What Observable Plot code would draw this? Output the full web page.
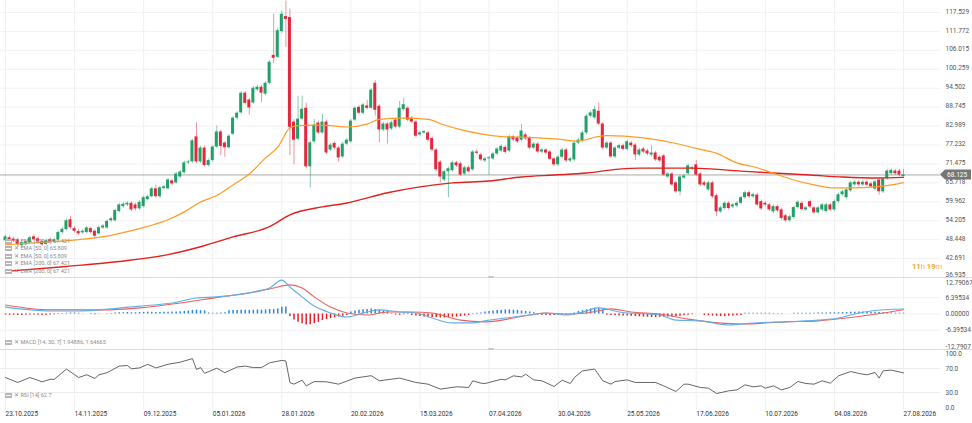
<!DOCTYPE html>
<html>
<head>
<meta charset="utf-8">
<script src="https://cdn.jsdelivr.net/npm/d3@7"></script>
<script src="https://cdn.jsdelivr.net/npm/@observablehq/plot@0.6"></script>
<style>
  html, body { margin: 0; padding: 0; background: #fff; }
  #wrap { position: relative; width: 972px; height: 423px; overflow: hidden; font-family: Roboto, "Liberation Sans", sans-serif; }
  #wrap > div.panel { position: absolute; left: 0; }
  .sep { position: absolute; left: 0; width: 972px; height: 1px; background: #dcdcdc; }
  .handle { position: absolute; width: 6px; height: 2px; background: #c8c8c8; border-radius: 1px; }
  .leg { position: absolute; left: 5px; font-size: 5.6px; color: #8c8c8c; white-space: nowrap; line-height: 7px; }
  .ic { display: inline-block; width: 5px; height: 3px; border: 1px solid #b5b5b5; background: repeating-linear-gradient(#b5b5b5 0 1px, #fff 1px 2px); vertical-align: middle; margin-right: 2px; }
  .cd { position: absolute; left: 912px; top: 262px; font-size: 7.6px; color: #f6a432; white-space: nowrap; }
  .cd b { font-weight: 700; }
  .cd span { font-weight: 400; opacity: 0.85; }
</style>
</head>
<body>
<div id="wrap"></div>
<script>
// ---------------- DATA ----------------
const dateLabels = ["23.10.2025","14.11.2025","09.12.2025","05.01.2026","28.01.2026","20.02.2026","15.03.2026","07.04.2026","30.04.2026","25.05.2026","17.06.2026","10.07.2026","04.08.2026","27.08.2026"];
const dateIdx = [0,17,34,51,68,85,102,119,136,153,170,187,204,221];

const opens = [
 48.1,49.0,48.6,48.4,46.6,46.9,47.5,49.3,48.7,47.8,
 47.0,48.4,47.8,48.4,50.6,51.5,54.5,51.8,50.9,50.5,
 50.6,51.8,51.0,50.2,52.0,52.0,54.2,54.2,57.0,58.5,
 59.0,59.5,59.0,57.8,58.5,60.6,61.5,63.9,61.5,64.0,
 63.9,66.3,65.7,67.5,68.8,71.8,72.1,79.7,72.1,76.3,
 71.0,72.5,76.6,81.2,77.8,76.4,80.5,85.4,87.0,93.0,
 90.9,90.0,94.0,94.8,92.7,96.0,104.5,103.9,111.7,116.3,
 116.0,84.2,79.0,85.1,88.4,70.6,78.2,83.9,80.9,84.2,
 75.7,77.7,76.3,73.6,77.5,78.2,84.8,88.7,86.9,89.1,
 88.4,96.0,89.0,81.8,83.6,82.1,84.8,82.7,88.0,88.4,
 85.4,84.2,80.3,80.9,80.9,79.2,75.7,72.0,66.6,69.1,
 69.4,71.8,71.5,68.4,70.3,69.7,75.1,74.2,72.4,73.0,
 73.0,74.5,75.4,76.5,75.4,79.7,79.4,78.7,80.3,79.4,
 76.3,77.5,75.1,75.7,75.1,73.0,71.2,73.5,75.7,72.4,
 72.7,77.8,78.4,80.9,86.0,85.5,87.5,83.6,76.3,77.8,
 73.6,76.3,77.0,75.9,77.8,77.2,74.2,76.0,75.4,74.2,
 74.8,73.5,73.9,67.5,68.4,65.7,63.0,67.2,68.5,70.0,
 71.2,68.4,65.7,63.6,65.7,61.8,56.9,57.9,59.5,58.4,
 58.7,59.5,61.2,62.7,61.5,62.0,60.0,59.5,59.0,56.9,
 58.5,57.5,55.7,54.2,55.2,58.2,59.5,57.5,60.0,58.1,
 56.6,57.5,57.0,59.0,57.5,60.0,62.1,61.2,63.3,65.1,
 65.9,65.1,65.9,65.4,63.8,66.6,63.0,67.0,68.5,69.3,
 69.3,67.6
];
const highs = [
 49.8,49.6,49.2,48.9,48.0,48.4,49.5,49.9,49.2,48.3,
 48.6,48.9,48.9,51.1,52.2,54.7,55.6,52.4,51.5,51.5,
 52.5,52.3,51.5,52.6,53.1,54.5,55.3,57.8,59.5,59.7,
 60.0,60.0,59.5,60.3,61.7,62.0,64.4,65.0,64.7,65.0,
 67.1,66.8,68.9,69.5,72.3,72.6,79.0,84.0,76.8,76.9,
 73.0,77.1,83.0,81.7,78.3,80.4,85.9,87.4,93.5,93.5,
 91.4,95.0,95.4,95.3,96.5,102.9,117.0,112.8,118.0,121.0,
 118.5,85.0,92.0,92.1,90.0,78.4,85.0,84.5,86.5,84.8,
 77.7,78.2,76.8,78.0,79.2,85.0,88.9,89.2,89.9,90.8,
 94.4,96.8,89.5,84.1,84.1,84.5,85.3,90.5,91.5,88.9,
 85.9,84.7,81.4,81.8,81.4,79.7,76.2,72.5,69.6,70.5,
 72.3,72.3,72.0,70.8,70.8,75.6,75.8,74.7,73.5,73.8,
 75.0,76.5,77.3,77.0,80.2,80.2,79.9,83.5,80.8,79.9,
 78.0,78.0,76.2,76.2,75.6,73.5,74.0,76.2,76.2,73.5,
 78.3,79.2,81.4,86.5,87.5,89.0,90.0,84.1,78.3,78.3,
 76.8,77.5,77.5,78.7,78.3,77.7,76.2,76.5,75.9,77.0,
 75.3,74.0,74.4,68.9,68.9,66.2,68.0,68.3,71.4,70.8,
 72.5,68.9,66.2,66.2,66.2,62.3,58.6,60.0,60.0,59.5,
 60.0,61.7,63.2,63.2,62.6,62.5,60.5,60.0,59.5,59.0,
 59.0,58.0,56.2,55.9,58.7,60.3,60.0,58.6,60.5,58.6,
 58.6,59.5,59.5,59.5,60.5,62.6,63.5,64.1,66.2,66.4,
 66.4,66.4,66.4,65.9,66.5,67.1,67.4,69.8,70.0,69.8,
 69.8,69.8
];
const lows = [
 47.6,47.9,47.6,46.3,46.0,46.5,47.2,48.0,47.3,46.4,
 46.6,47.4,47.3,48.0,50.1,51.1,51.7,50.5,49.7,50.0,
 50.2,50.1,48.7,49.8,51.5,51.6,53.7,53.8,56.6,58.0,
 58.5,57.0,57.3,57.4,58.1,60.2,61.1,61.0,61.0,63.5,
 63.5,64.9,65.3,67.1,68.4,71.3,71.7,71.5,71.6,70.5,
 70.5,72.0,76.2,74.0,73.5,76.0,80.1,84.9,86.6,89.4,
 86.3,89.6,93.5,90.2,92.2,95.6,102.0,103.5,111.2,106.9,
 74.0,71.2,78.5,84.6,70.0,64.2,77.8,80.4,80.5,74.3,
 75.2,75.8,72.0,73.1,77.0,77.8,84.3,86.4,86.4,87.9,
 88.0,86.0,77.8,81.3,77.5,81.6,82.2,82.2,87.5,84.3,
 83.7,79.4,79.8,80.4,78.2,75.2,69.2,65.7,66.1,61.2,
 68.9,70.4,67.6,67.9,68.6,69.2,74.2,72.2,71.9,68.0,
 72.5,74.0,74.9,74.5,74.9,78.3,77.7,78.2,78.6,75.8,
 75.8,74.6,74.6,74.3,72.4,70.7,70.7,73.0,71.9,71.9,
 72.2,77.3,77.9,80.4,85.5,85.0,83.1,75.8,75.8,73.1,
 73.1,75.8,75.4,75.4,76.5,72.5,73.7,74.6,74.0,73.7,
 72.2,71.9,67.6,67.0,64.6,62.5,61.8,66.7,68.0,69.5,
 67.6,64.6,64.5,63.1,61.0,55.5,56.4,57.4,57.4,57.9,
 58.2,59.0,60.7,61.0,61.0,58.5,57.3,58.5,57.0,56.4,
 56.7,54.4,53.7,53.7,54.7,57.7,57.1,57.0,57.9,56.1,
 56.1,57.0,56.5,57.0,57.0,59.5,61.6,60.7,62.8,64.6,
 64.6,64.6,64.5,64.0,63.3,62.0,62.5,66.5,68.0,68.0,
 67.6,67.5
];
const closes = [
 49.3,48.4,48.0,46.9,47.5,47.8,49.0,48.4,47.8,46.9,
 48.1,47.8,48.4,50.6,51.6,54.2,52.1,51.0,50.2,51.0,
 52.0,50.6,49.5,52.1,52.6,54.0,54.8,57.3,59.0,59.2,
 59.5,57.5,57.8,59.8,61.2,61.5,63.9,61.5,64.2,64.5,
 66.6,65.4,68.4,69.0,71.8,72.1,78.5,72.1,76.3,71.0,
 72.5,76.6,81.2,76.8,76.4,79.9,85.4,86.9,93.0,89.9,
 88.5,94.5,94.8,93.0,96.0,102.4,103.6,112.0,117.0,115.4,
 82.6,78.7,85.1,88.1,70.6,77.9,83.3,80.9,84.2,74.8,
 77.2,76.3,73.3,77.5,78.7,84.5,88.4,86.9,89.4,88.4,
 93.9,87.8,81.8,83.6,81.8,84.0,82.7,88.4,89.5,84.8,
 84.2,79.9,80.9,81.3,78.7,75.7,69.7,67.5,69.1,70.0,
 71.8,70.9,68.1,70.3,69.1,75.1,74.7,72.7,73.0,73.3,
 74.5,76.0,76.8,75.0,79.7,78.8,78.2,81.5,79.1,76.3,
 77.5,75.1,75.7,74.8,72.9,71.2,73.5,75.7,72.4,73.0,
 77.8,78.7,80.9,86.0,87.0,88.0,83.6,76.3,77.8,73.6,
 76.3,77.0,75.9,78.2,77.0,74.2,75.7,75.1,74.5,74.8,
 72.7,72.4,68.1,68.4,65.1,63.0,67.5,67.8,70.9,70.3,
 68.1,65.1,65.0,65.7,61.5,56.9,58.1,59.5,57.9,59.0,
 59.5,61.2,62.7,61.5,62.1,59.0,57.8,59.0,57.5,58.5,
 57.2,54.9,54.2,55.4,58.2,59.8,57.6,58.1,58.4,56.6,
 58.1,59.0,59.0,57.5,60.0,62.1,63.0,63.6,65.7,65.9,
 65.1,65.9,65.0,64.5,66.0,63.0,66.9,69.3,69.5,68.5,
 68.1,68.125
];
const lastPrice = 68.125;

// EMA lines (candle index, value)
const ema50Idx = [0,10,20,25,30,35,40,44,48,52,56,60,64,67,70,72,76,80,84,89,92,98,104,108,112,117,122,130,136,141,145,148,157,165,170,175,180,185,189,194,199,204,208,214,218,221];
const ema50Val = [46.9,47.7,48.7,49.5,50.9,52.5,54.5,56.9,59.9,61.9,65.1,68.4,73.3,76.6,82.4,83.1,83.3,83.1,82.7,83.6,85.0,85.4,85.0,83.3,81.9,80.6,79.8,79.5,79.0,78.4,79.6,80.1,79.4,77.7,76.2,74.7,71.8,70.3,68.6,66.6,65.1,64.2,64.2,64.5,65.1,65.8];
const ema200Idx = [0,15,28,40,48,56,65,70,78,84,94,102,110,119,127,135,143,151,156,169,181,189,198,206,214,221];
const ema200Val = [38.8,40.3,41.8,43.9,46.3,49.3,52.4,56.0,58.4,59.6,62.7,64.5,65.7,66.3,67.5,68.1,68.7,69.9,70.2,70.2,69.3,68.7,68.1,67.5,67.2,67.4];

// MACD panel
const macdIdx = [0,11,18,26,33,41,47,52,58,62,65,68,70,73,76,80,84,89,92,97,101,105,110,115,118,123,129,133,138,142,146,151,161,165,171,178,184,192,200,205,209,213,221];
const macdVal = [2.7,1.2,1.2,2.0,3.1,4.3,6.3,6.7,7.8,9.0,10.2,13.3,10.6,6.7,3.1,0.4,-1.2,0.8,1.6,0.8,0.4,-1.6,-3.5,-3.5,-2.7,-1.6,-0.4,0.4,-0.4,0.8,2.4,0.8,-0.4,-2.4,-2.7,-4.3,-3.5,-3.1,-2.4,-1.6,0,1.2,1.95];
const signalIdx = [0,11,24,33,43,53,60,66,70,73,76,80,84,89,94,100,105,112,118,129,133,138,143,149,154,161,168,181,192,200,209,221];
const signalVal = [3.5,1.6,1.6,2.4,4.3,6.7,8.2,10.2,11.4,10.2,6.7,2.7,0.4,-0.4,0.8,0.8,0.4,-2.4,-3.1,-0.4,0.4,0,0.4,2.0,0.8,0,-2.0,-3.9,-3.1,-2.7,-1.2,1.65];
const histVal = [
 -0.4,-0.5,-0.5,-0.6,-0.6,-0.5,-0.4,-0.4,-0.5,-0.6,-0.5,-0.4,-0.3,-0.2,0.2,
 0.3,0.4,0.4,0.3,
 0.1,0,-0.2,-0.3,-0.1,0,0.1,0.2,
 0.4,0.5,0.5,0.6,0.5,0.5,0.6,0.6,0.7,0.7,0.6,0.6,0.7,0.7,0.8,0.8,0.9,1.0,1.2,
 1.4,1.5,1.3,1.2,
 0.4,0.3,0.3,0.4,0.5,
 1.3,1.4,1.4,1.5,1.5,1.4,1.5,1.6,1.5,1.6,1.8,1.7,2.0,2.6,2.7,
 -1.0,-2.4,-3.2,-3.8,-4.3,-4.2,-3.8,-3.3,-2.6,
 -2.2,-1.8,-1.5,-1.2,-0.9,-0.6,
 0.8,1.2,1.5,1.7,1.8,2.0,1.8,1.5,1.2,0.9,
 -0.2,-0.4,-0.5,-0.3,-0.2,
 -0.6,-0.8,-1.0,-1.2,-1.3,-1.4,-1.5,-1.6,-1.5,-1.4,-1.3,-1.2,-1.0,-0.8,-0.6,
 0.2,0.3,0.4,
 0.8,1.0,1.2,1.4,1.5,1.6,1.6,1.5,1.4,1.2,1.0,0.8,0.5,
 -0.3,-0.5,-0.6,-0.7,-0.6,-0.5,-0.4,-0.3,0.2,0.4,
 1.0,1.3,1.7,2.0,2.3,2.1,1.4,
 -0.5,-0.6,-0.7,-0.8,-0.8,-0.8,-0.9,-1.0,-1.1,-1.2,-1.3,-1.4,-1.4,-1.3,-1.3,-1.2,-1.1,-1.0,-0.9,-0.7,-0.5,-0.3,
 0,0,
 -0.6,-0.7,-0.8,-0.9,-1.0,-1.0,-0.9,-0.8,-0.7,-0.6,
 0.3,0.3,0.3,0.3,0.3,0.3,0.3,0.2,0.2,0.2,
 0,0,
 0.3,0.3,0.3,0.3,0.3,0.3,0.4,0.4,0.4,0.5,0.5,0.5,0.6,0.6,0.7,0.7,0.8,0.8,0.8,0.7,0.7,0.6,0.5,0.4,0.4,0.3,0.3,0.3
];

// RSI panel
const rsiIdx = [0,3,6,9,11,12,15,18,20,22,23,25,28,30,31,33,35,37,40,43,46,47,48,49,52,54,57,59,61,63,65,68,69,70,71,73,74,76,79,82,86,90,92,97,101,104,107,111,114,115,117,118,122,123,125,127,128,130,132,135,137,139,140,142,145,147,149,150,153,155,160,162,165,167,168,171,173,175,178,180,182,184,186,187,189,191,193,195,197,199,201,203,205,208,210,212,214,215,216,218,221];
const rsiVal = [55,46.7,55,47.8,52,52,69,55,59.5,53.4,59.5,63,74,75,69.5,71,77,71,77,80.5,86.5,68.5,71.5,62,70.5,63,72.5,74,71.5,71.5,79.5,83.5,82.5,46.7,43.9,50.5,41,48.3,47.8,43.9,54,58,49.5,54,46.7,43.9,35.6,39.5,38.4,49.5,45.5,45,52,51,57.8,56,60.5,51,49.5,40,50.5,45,55,66,69,49.5,43.9,48.3,51,46.7,46.7,41,31.7,43.9,43.9,38.4,37.2,28.3,32.8,34.4,42.8,39.5,41,37.2,41,34.4,38.4,48.3,45,43.9,49.5,45.5,57.8,65,61.7,59.5,63.4,54,66.2,67.3,62.7];

// axis tick values and labels
const priceTicks = [117.529,111.772,106.015,100.259,94.502,88.745,82.989,77.232,71.475,65.718,59.962,54.205,48.448,42.691,36.935];
const macdTicks = [12.79067,6.39534,0,-6.39534,-12.7907];
const macdTickLabels = ["12.79067","6.39534","0.00000","-6.39534","-12.7907"];
const rsiTicks = [100,70,30,0];
const rsiTickLabels = ["100.0","70.0","30.0","0.0"];

const legendEma = ["EMA [200, 0] 67.421","EMA [50, 0] 65.809","EMA [50, 0] 65.809","EMA [200, 0] 67.421","EMA [200, 0] 67.421"];
const legendMacd = "MACD [14, 30, 7] 1.94886, 1.64665";
const legendRsi = "RSI [14] 62.7";

// ---------------- BUILD ----------------
const UP = "#23a06a", DOWN = "#e3283b";
const W = 972, FRAME_R = 940;
const step = 898 / 221;
const xDomain = [-5 / step, (FRAME_R - 5) / step];

const n = Math.min(opens.length, highs.length, lows.length, closes.length);
const candles = d3.range(n).map(i => ({i, open: opens[i], high: highs[i], low: lows[i], close: closes[i]}));
const upC = candles.filter(d => d.close >= d.open);
const dnC = candles.filter(d => d.close < d.open);
const zipPts = (idx, val) => idx.map((i, k) => ({i, v: val[k]}));
const ema50 = zipPts(ema50Idx, ema50Val);
const ema200 = zipPts(ema200Idx, ema200Val);
const macd = zipPts(macdIdx, macdVal);
const signal = zipPts(signalIdx, signalVal);
const hist = histVal.map((v, i) => ({i, v}));
const rsi = zipPts(rsiIdx, rsiVal);

function panel(height, yDomain, marks, mt = 0, mb = 0) {
  return Plot.plot({
    width: W, height,
    marginLeft: 0, marginRight: W - FRAME_R, marginTop: mt, marginBottom: mb,
    x: {domain: xDomain, axis: null},
    y: {domain: yDomain, axis: null},
    style: {background: "transparent", overflow: "visible", fontFamily: "Roboto, 'Liberation Sans', sans-serif"},
    marks
  });
}
const grid = "#f1f1f1";
const lblStyle = {x: xDomain[1], textAnchor: "start", dx: 5, fill: "#555", fontSize: 6.5};

// price box marker (uses the plot's y scale)
function priceBox(index, scales) {
  const y = scales.y(lastPrice);
  const g = d3.create("svg:g");
  g.append("path")
    .attr("d", `M${FRAME_R},${y} L${FRAME_R + 5},${y - 5} L${W - 1},${y - 5} L${W - 1},${y + 5} L${FRAME_R + 5},${y + 5} Z`)
    .attr("fill", "#767676");
  g.append("text").attr("x", FRAME_R + 7).attr("y", y).attr("dy", "0.35em")
    .attr("text-anchor", "start")
    .attr("fill", "#fff").attr("font-size", 6.6).text(lastPrice.toFixed(3));
  return g.node();
}

const pricePlot = panel(277, [36.935, 121.18], [
  Plot.ruleY(priceTicks, {stroke: grid}),
  Plot.ruleX(dateIdx, {stroke: grid}),
  Plot.ruleY([lastPrice], {stroke: "#a8a8a8"}),
  Plot.ruleX(upC, {x: "i", y1: "low", y2: "high", stroke: UP, strokeOpacity: 0.55}),
  Plot.ruleX(dnC, {x: "i", y1: "low", y2: "high", stroke: DOWN, strokeOpacity: 0.5}),
  Plot.rect(upC, {x1: d => d.i - 0.37, x2: d => d.i + 0.37, y1: "open", y2: "close", fill: UP}),
  Plot.rect(dnC, {x1: d => d.i - 0.37, x2: d => d.i + 0.37, y1: "open", y2: "close", fill: DOWN}),
  Plot.line(ema200, {x: "i", y: "v", stroke: "#e0211d", strokeWidth: 1.4, curve: "monotone-x"}),
  Plot.line(ema50, {x: "i", y: "v", stroke: "#ff9b24", strokeWidth: 1.2, curve: "monotone-x"}),
  Plot.text(priceTicks.slice(0, -1), {...lblStyle, y: d => d, text: d => d.toFixed(3), dy: -1}),
  Plot.text(priceTicks.slice(-1), {...lblStyle, y: d => d, text: d => d.toFixed(3), dy: -3}),
  priceBox
]);

const macdPlot = panel(72, [-13.92, 14.31], [
  Plot.ruleY([6.39534, 0, -6.39534], {stroke: grid}),
  Plot.ruleX(dateIdx, {stroke: grid}),
  Plot.ruleX(hist.filter(d => d.v > 0), {x: "i", y1: 0, y2: "v", stroke: "#2f86d6", strokeWidth: 1.5}),
  Plot.ruleX(hist.filter(d => d.v < 0), {x: "i", y1: 0, y2: "v", stroke: "#e3221e", strokeWidth: 1.5}),
  Plot.line(signal, {x: "i", y: "v", stroke: "#ef5f5f", strokeWidth: 1.1, curve: "monotone-x"}),
  Plot.line(macd, {x: "i", y: "v", stroke: "#5fb0e8", strokeWidth: 1.1, curve: "monotone-x"}),
  Plot.text(macdTicks.slice(0, 1), {...lblStyle, y: d => d, text: () => macdTickLabels[0], dy: 1.5}),
  Plot.text(macdTicks.slice(1), {...lblStyle, y: d => d, text: (d, i) => macdTickLabels[i + 1]})
]);

const rsiPlot = panel(74, [0, 100], [
  Plot.ruleY([70, 30], {stroke: "#ececec"}),
  Plot.ruleX(dateIdx, {y1: 0, y2: 100, stroke: grid}),
  Plot.line(rsi, {x: "i", y: "v", stroke: "#555", strokeWidth: 0.9}),
  Plot.text([rsiTicks[0]], {...lblStyle, y: d => d, text: () => rsiTickLabels[0], dy: 3}),
  Plot.text(rsiTicks.slice(1, 3), {...lblStyle, y: d => d, text: (d, i) => rsiTickLabels[i + 1]}),
  Plot.text([rsiTicks[3]], {...lblStyle, y: d => d, text: () => rsiTickLabels[3], dy: -3}),
  Plot.text(dateIdx, {x: d => d, y: 0, text: (d, i) => dateLabels[i], textAnchor: "start", dy: 3.8, fill: "#333", fontSize: 6.5})
], 1, 13);

const wrap = document.getElementById("wrap");
function place(node, top) {
  const d = document.createElement("div");
  d.className = "panel";
  d.style.top = top + "px";
  d.appendChild(node);
  wrap.appendChild(d);
}
place(pricePlot, 0);
place(macdPlot, 277);
place(rsiPlot, 349);

function addDiv(cls, css, html) {
  const d = document.createElement("div");
  d.className = cls;
  Object.assign(d.style, css);
  if (html != null) d.innerHTML = html;
  wrap.appendChild(d);
  return d;
}
addDiv("sep", {top: "277px"});
addDiv("sep", {top: "349px"});
addDiv("handle", {left: "488px", top: "276px"});
addDiv("handle", {left: "488px", top: "348px"});

const legTops = [238, 245, 252.5, 260, 267.5];
legendEma.forEach((t, k) => addDiv("leg", {top: legTops[k] + "px"}, `<span class="ic"></span>✕ ${t}`));
addDiv("leg", {top: "339px"}, `<span class="ic"></span>✕ ${legendMacd}`);
addDiv("leg", {top: "392px"}, `<span class="ic"></span>✕ ${legendRsi}`);
addDiv("cd", {}, `<b>11</b><span>h</span> <b>19</b><span>m</span>`);
</script>
</body>
</html>
